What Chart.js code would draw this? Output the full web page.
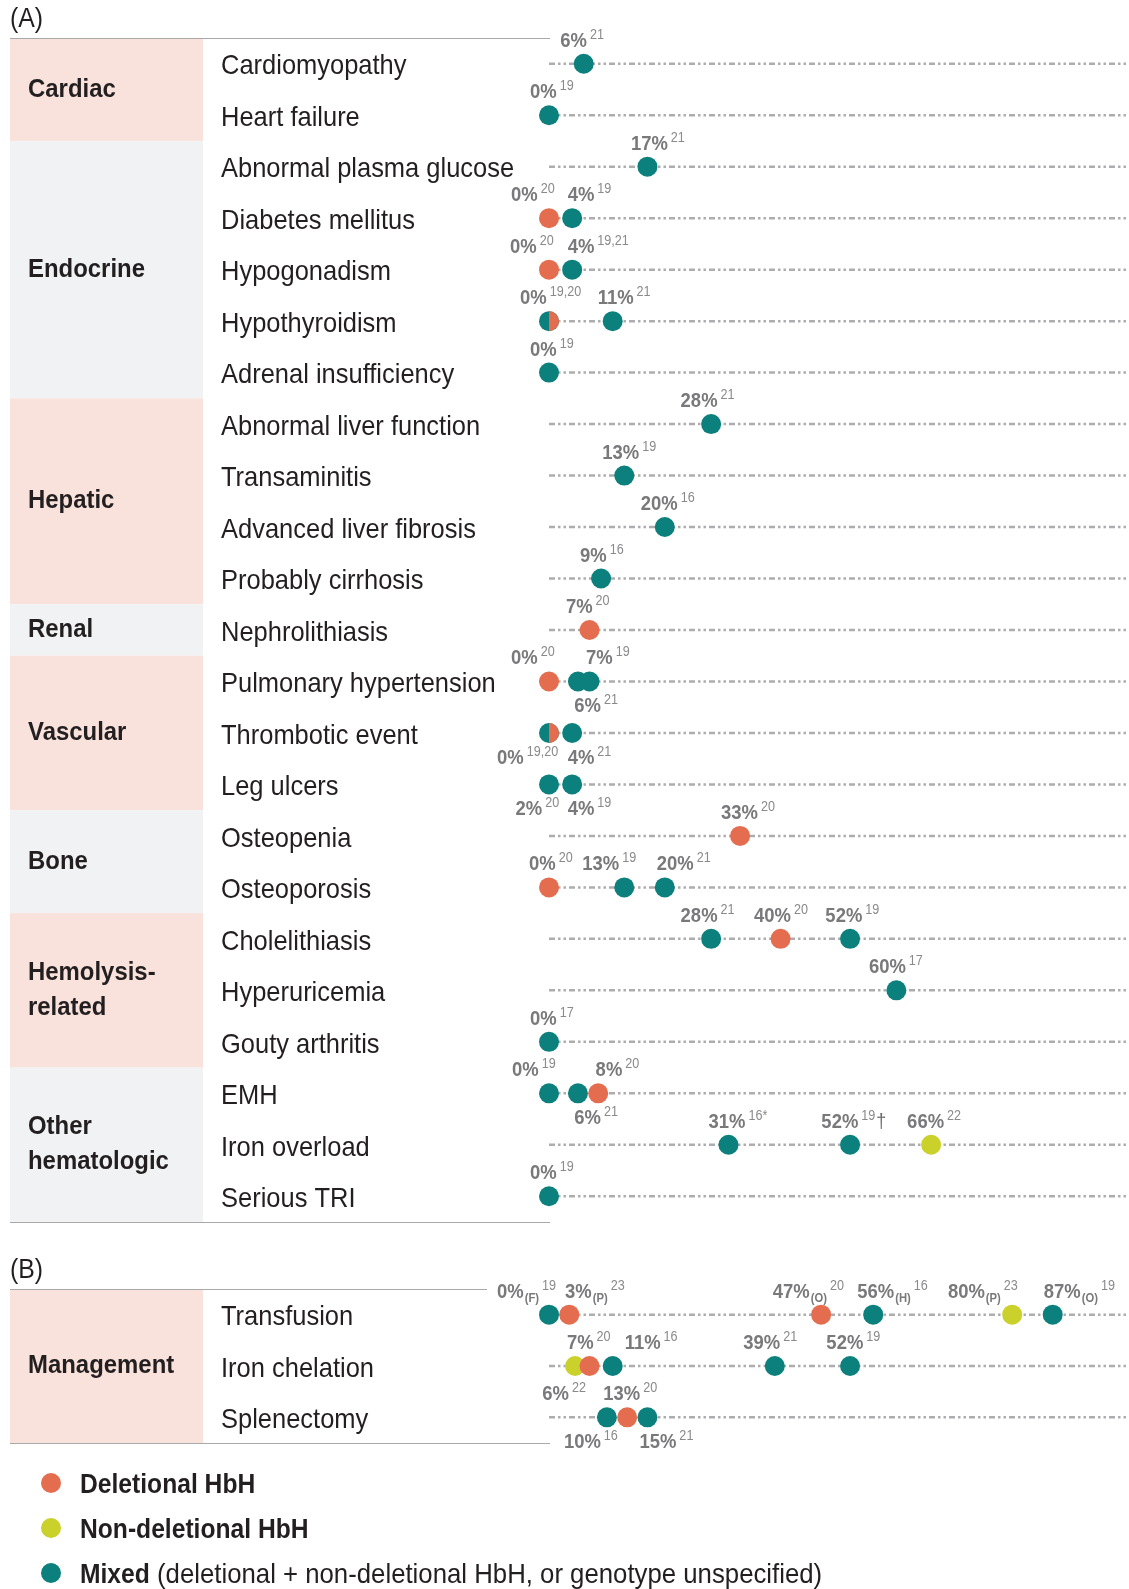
<!DOCTYPE html>
<html>
<head>
<meta charset="utf-8">
<title>HbH complications and management</title>
<script src="https://cdn.jsdelivr.net/npm/chart.js@4.4.1/dist/chart.umd.min.js"></script>
<style>
  html, body { margin: 0; padding: 0; background: #fff; }
  .panel { position: absolute; left: 0; width: 1129px; }
  #wrapA { top: 0; height: 1240px; }
  #wrapB { top: 1240px; height: 349px; }
</style>
</head>
<body>
<div class="panel" id="wrapA"><canvas id="chartA"></canvas></div>
<div class="panel" id="wrapB"><canvas id="chartB"></canvas></div>
<script>
// ==========================
//  Data
// ==========================
const rowsA = [
  "Cardiomyopathy", "Heart failure",
  "Abnormal plasma glucose", "Diabetes mellitus", "Hypogonadism", "Hypothyroidism", "Adrenal insufficiency",
  "Abnormal liver function", "Transaminitis", "Advanced liver fibrosis", "Probably cirrhosis",
  "Nephrolithiasis",
  "Pulmonary hypertension", "Thrombotic event", "Leg ulcers",
  "Osteopenia", "Osteoporosis",
  "Cholelithiasis", "Hyperuricemia", "Gouty arthritis",
  "EMH", "Iron overload", "Serious TRI",
];
const groupsA = ["Cardiac", "Endocrine", "Hepatic", "Renal", "Vascular", "Bone", "Hemolysis-\nrelated", "Other\nhematologic"];
const groupSizesA = [2, 5, 4, 1, 3, 2, 3, 3];

const rowsB = ["Transfusion", "Iron chelation", "Splenectomy"];
const groupsB = ["Management"];
const groupSizesB = [3];

// dots: [row, percent]
const deletionalA = [
  ["Diabetes mellitus", 0], ["Hypogonadism", 0], ["Hypothyroidism", 0], ["Nephrolithiasis", 7],
  ["Pulmonary hypertension", 0], ["Thrombotic event", 0], ["Osteopenia", 33], ["Osteoporosis", 0],
  ["Cholelithiasis", 40], ["EMH", 8.5],
];
const nonDeletionalA = [["Iron overload", 66]];
const mixedA = [
  ["Cardiomyopathy", 6], ["Heart failure", 0], ["Abnormal plasma glucose", 17],
  ["Diabetes mellitus", 4], ["Hypogonadism", 4], ["Hypothyroidism", 0], ["Hypothyroidism", 11],
  ["Adrenal insufficiency", 0], ["Abnormal liver function", 28], ["Transaminitis", 13],
  ["Advanced liver fibrosis", 20], ["Probably cirrhosis", 9],
  ["Pulmonary hypertension", 5], ["Pulmonary hypertension", 7],
  ["Thrombotic event", 0], ["Thrombotic event", 4], ["Leg ulcers", 0], ["Leg ulcers", 4],
  ["Osteoporosis", 13], ["Osteoporosis", 20], ["Cholelithiasis", 28], ["Cholelithiasis", 52],
  ["Hyperuricemia", 60], ["Gouty arthritis", 0], ["EMH", 0], ["EMH", 5],
  ["Iron overload", 31], ["Iron overload", 52], ["Serious TRI", 0],
];

const deletionalB = [["Transfusion", 3.5], ["Transfusion", 47], ["Iron chelation", 7], ["Splenectomy", 13.5]];
const nonDeletionalB = [["Transfusion", 80], ["Iron chelation", 4.5]];
const mixedB = [
  ["Transfusion", 0], ["Transfusion", 56], ["Transfusion", 87],
  ["Iron chelation", 11], ["Iron chelation", 39], ["Iron chelation", 52],
  ["Splenectomy", 10], ["Splenectomy", 17],
];

// value labels: [row, percent, reference, subscript, mark]
const labelsA = [
  ["Cardiomyopathy", 6, "21"], ["Heart failure", 0, "19"], ["Abnormal plasma glucose", 17, "21"],
  ["Diabetes mellitus", 0, "20"], ["Diabetes mellitus", 4, "19"],
  ["Hypogonadism", 0, "20"], ["Hypogonadism", 4, "19,21"],
  ["Hypothyroidism", 0, "19,20"], ["Hypothyroidism", 11, "21"],
  ["Adrenal insufficiency", 0, "19"], ["Abnormal liver function", 28, "21"],
  ["Transaminitis", 13, "19"], ["Advanced liver fibrosis", 20, "16"], ["Probably cirrhosis", 9, "16"],
  ["Nephrolithiasis", 7, "20"],
  ["Pulmonary hypertension", 0, "20"], ["Pulmonary hypertension", 7, "19"], ["Pulmonary hypertension", 6, "21"],
  ["Thrombotic event", 0, "19,20"], ["Thrombotic event", 4, "21"],
  ["Leg ulcers", 2, "20"], ["Leg ulcers", 4, "19"],
  ["Osteopenia", 33, "20"],
  ["Osteoporosis", 0, "20"], ["Osteoporosis", 13, "19"], ["Osteoporosis", 20, "21"],
  ["Cholelithiasis", 28, "21"], ["Cholelithiasis", 40, "20"], ["Cholelithiasis", 52, "19"],
  ["Hyperuricemia", 60, "17"], ["Gouty arthritis", 0, "17"],
  ["EMH", 0, "19"], ["EMH", 8, "20"], ["EMH", 6, "21"],
  ["Iron overload", 31, "16*"], ["Iron overload", 52, "19", null, "†"], ["Iron overload", 66, "22"],
  ["Serious TRI", 0, "19"],
];
const labelsB = [
  ["Transfusion", 0, "19", "(F)"], ["Transfusion", 3, "23", "(P)"], ["Transfusion", 47, "20", "(O)"],
  ["Transfusion", 56, "16", "(H)"], ["Transfusion", 80, "23", "(P)"], ["Transfusion", 87, "19", "(O)"],
  ["Iron chelation", 7, "20"], ["Iron chelation", 11, "16"], ["Iron chelation", 39, "21"], ["Iron chelation", 52, "19"],
  ["Splenectomy", 6, "22"], ["Splenectomy", 13, "20"], ["Splenectomy", 10, "16"], ["Splenectomy", 15, "21"],
];

// label placement (px shift from the value, a = above / b = below)
const placeA = [
  [-23.5, "a"], [-19, "a"], [-16.5, "a"],
  [-38, "a"], [-4.5, "a"], [-39, "a"], [-4.5, "a"],
  [-29, "a"], [-15, "a"],
  [-19, "a"], [-30.5, "a"], [-22, "a"], [-24, "a"], [-21, "a"], [-23.6, "a"],
  [-38, "a"], [-3.5, "a"], [-9.5, "b"],
  [-52, "b"], [-4.5, "b"], [-45, "b"], [-4.5, "b"],
  [-19, "a"], [-20, "a"], [-42, "a"], [-8, "a"],
  [-30.5, "a"], [-26.6, "a"], [-24.7, "a"], [-27.5, "a"], [-19, "a"],
  [-37, "a"], [0.3, "a"], [-9.5, "b"],
  [-20, "a"], [-28.7, "a"], [-24, "a"], [-19, "a"],
];
const placeB = [
  [-52, "a"], [-1.3, "a"], [-48.3, "a"], [-16, "a"], [-64.3, "a"], [-9, "a"],
  [-22.6, "a"], [12, "a"], [-31.5, "a"], [-23.7, "a"],
  [-41.5, "a"], [-21, "a"], [-43, "b"], [3.6, "b"],
];

// ==========================
//  Styles
// ==========================
const COLORS = { deletional: "#e56d4f", nonDeletional: "#cad12b", mixed: "#0b807c" };
const BAND_PINK = "#f9e2dc";
const BAND_GRAY = "#f1f2f4";
const TEXT = "#231f20";
const LABEL_GRAY = "#79797b";
const SUP_GRAY = "#8a8a8c";
const FONT = "'Liberation Sans', Arial, sans-serif";

function condensed(ctx, text, x, y, font, color, sx) {
  ctx.save();
  ctx.font = font;
  ctx.fillStyle = color;
  ctx.translate(x, y);
  ctx.scale(sx, 1);
  ctx.fillText(text, 0, 0);
  const w = ctx.measureText(text).width * sx;
  ctx.restore();
  return w;
}

function halfDot(color) {
  const c = document.createElement("canvas");
  c.width = 20;
  c.height = 20;
  const g = c.getContext("2d");
  g.fillStyle = color;
  g.beginPath();
  g.arc(10, 10, 10, -Math.PI / 2, Math.PI / 2);
  g.closePath();
  g.fill();
  return c;
}
const halfOrange = halfDot(COLORS.deletional);

// ==========================
//  Table, rules and dotted guides
// ==========================
function drawTable(chart, rows, groups, sizes, title, topRuleEnd) {
  const { ctx, scales: { x, y } } = chart;
  const step = y.getPixelForValue(1) - y.getPixelForValue(0);
  const top = y.getPixelForValue(0) - step / 2;
  const bottom = y.getPixelForValue(rows.length - 1) + step / 2;
  const x0 = x.getPixelForValue(0);

  ctx.save();
  ctx.textBaseline = "middle";
  let start = 0;
  groups.forEach((g, gi) => {
    const y0 = top + start * step;
    const y1 = top + (start + sizes[gi]) * step;
    ctx.fillStyle = gi % 2 === 0 ? BAND_PINK : BAND_GRAY;
    ctx.fillRect(10, y0, 193, y1 - y0);
    const lines = g.split("\n");
    lines.forEach((ln, li) => {
      const cy = (y0 + y1) / 2 + (li - (lines.length - 1) / 2) * 35;
      condensed(ctx, ln, 28, cy, "bold 26px " + FONT, TEXT, 0.92);
    });
    start += sizes[gi];
  });

  rows.forEach((r, i) => {
    condensed(ctx, r, 221, y.getPixelForValue(i) + 3, "28px " + FONT, TEXT, 0.91);
  });

  condensed(ctx, title, 10, top - 18, "27px " + FONT, TEXT, 0.92);

  ctx.strokeStyle = "#a9a9a9";
  ctx.lineWidth = 1;
  ctx.beginPath();
  ctx.moveTo(10, Math.round(top) + 0.5);
  ctx.lineTo(topRuleEnd, Math.round(top) + 0.5);
  ctx.moveTo(10, Math.round(bottom) + 0.5);
  ctx.lineTo(x0 + 1, Math.round(bottom) + 0.5);
  ctx.stroke();

  ctx.strokeStyle = "#adadaf";
  ctx.lineWidth = 2.5;
  ctx.setLineDash([6, 3, 2.5, 3, 2.5, 3]);
  rows.forEach((r, i) => {
    const py = y.getPixelForValue(i);
    ctx.beginPath();
    ctx.moveTo(x0, py);
    ctx.lineTo(chart.width, py);
    ctx.stroke();
  });
  ctx.restore();
}

function drawValueLabels(chart, rows, labels, places) {
  const { ctx, scales: { x, y } } = chart;
  ctx.save();
  ctx.textBaseline = "alphabetic";
  labels.forEach((lab, i) => {
    const [row, value, ref, sub, mark] = lab;
    const [dx, side] = places[i];
    let px = x.getPixelForValue(value) + dx;
    const py = y.getPixelForValue(rows.indexOf(row)) + (side === "b" ? 31 : -17);
    px += condensed(ctx, value + "%", px, py, "bold 20.5px " + FONT, LABEL_GRAY, 0.9);
    if (sub) px += 1 + condensed(ctx, sub, px + 1, py + 4, "bold 12.5px " + FONT, LABEL_GRAY, 0.9);
    px += 3;
    px += condensed(ctx, ref, px, py - 8, "14px " + FONT, SUP_GRAY, 0.9);
    if (mark) condensed(ctx, mark, px + 1, py, "20px " + FONT, "#6b6b6d", 0.9);
  });
  ctx.restore();
}

function drawLegend(chart) {
  const { ctx } = chart;
  const items = [
    [COLORS.deletional, "Deletional HbH", ""],
    [COLORS.nonDeletional, "Non-deletional HbH", ""],
    [COLORS.mixed, "Mixed", " (deletional + non-deletional HbH, or genotype unspecified)"],
  ];
  ctx.save();
  ctx.textBaseline = "middle";
  items.forEach(([color, bold, rest], i) => {
    const cy = 243 + i * 45;
    ctx.fillStyle = color;
    ctx.beginPath();
    ctx.arc(51, cy, 10, 0, Math.PI * 2);
    ctx.fill();
    const w = condensed(ctx, bold, 80, cy + 2, "bold 28px " + FONT, TEXT, 0.88);
    if (rest) condensed(ctx, rest, 80 + w, cy + 2, "28px " + FONT, TEXT, 0.92);
  });
  ctx.restore();
}

// ==========================
//  Chart builder
// ==========================
function buildChart(canvasId, rows, dots, labels, places, groups, sizes, title, topRuleEnd, padTop, padBottom, withLegend) {
  const toPoints = (arr) => arr.map(([row, v]) => ({ x: v, y: row }));
  const [del, nonDel, mixed] = dots;

  const tablePlugin = {
    id: "table_" + canvasId,
    beforeDatasetsDraw(chart) {
      drawTable(chart, rows, groups, sizes, title, topRuleEnd);
    },
    afterDatasetsDraw(chart) {
      drawValueLabels(chart, rows, labels, places);
      if (withLegend) drawLegend(chart);
    },
  };

  return new Chart(document.getElementById(canvasId), {
    type: "scatter",
    data: {
      datasets: [
        {
          label: "Deletional HbH",
          data: toPoints(del),
          backgroundColor: COLORS.deletional,
          pointStyle: (c) => {
            const p = c.raw;
            const split = p && mixed.some(([r, v]) => r === p.y && v === p.x);
            return split ? halfOrange : "circle";
          },
        },
        { label: "Non-deletional HbH", data: toPoints(nonDel), backgroundColor: COLORS.nonDeletional },
        { label: "Mixed", data: toPoints(mixed), backgroundColor: COLORS.mixed },
      ].map((d) => ({ ...d, pointRadius: 10, pointHoverRadius: 10, borderWidth: 0, clip: false })),
    },
    options: {
      responsive: true,
      maintainAspectRatio: false,
      animation: false,
      events: [],
      layout: { padding: { left: 549, right: 2, top: padTop, bottom: padBottom } },
      plugins: { legend: { display: false }, tooltip: { enabled: false } },
      scales: {
        x: { type: "linear", min: 0, max: 98.45, display: false },
        y: { type: "category", labels: rows, offset: true, display: false },
      },
    },
    plugins: [tablePlugin],
  });
}

document.addEventListener("DOMContentLoaded", () => {
  buildChart("chartA", rowsA, [deletionalA, nonDeletionalA, mixedA], labelsA, placeA,
    groupsA, groupSizesA, "(A)", 550, 38, 18, false);
  buildChart("chartB", rowsB, [deletionalB, nonDeletionalB, mixedB], labelsB, placeB,
    groupsB, groupSizesB, "(B)", 487, 49, 146, true);
});
</script>
</body>
</html>
